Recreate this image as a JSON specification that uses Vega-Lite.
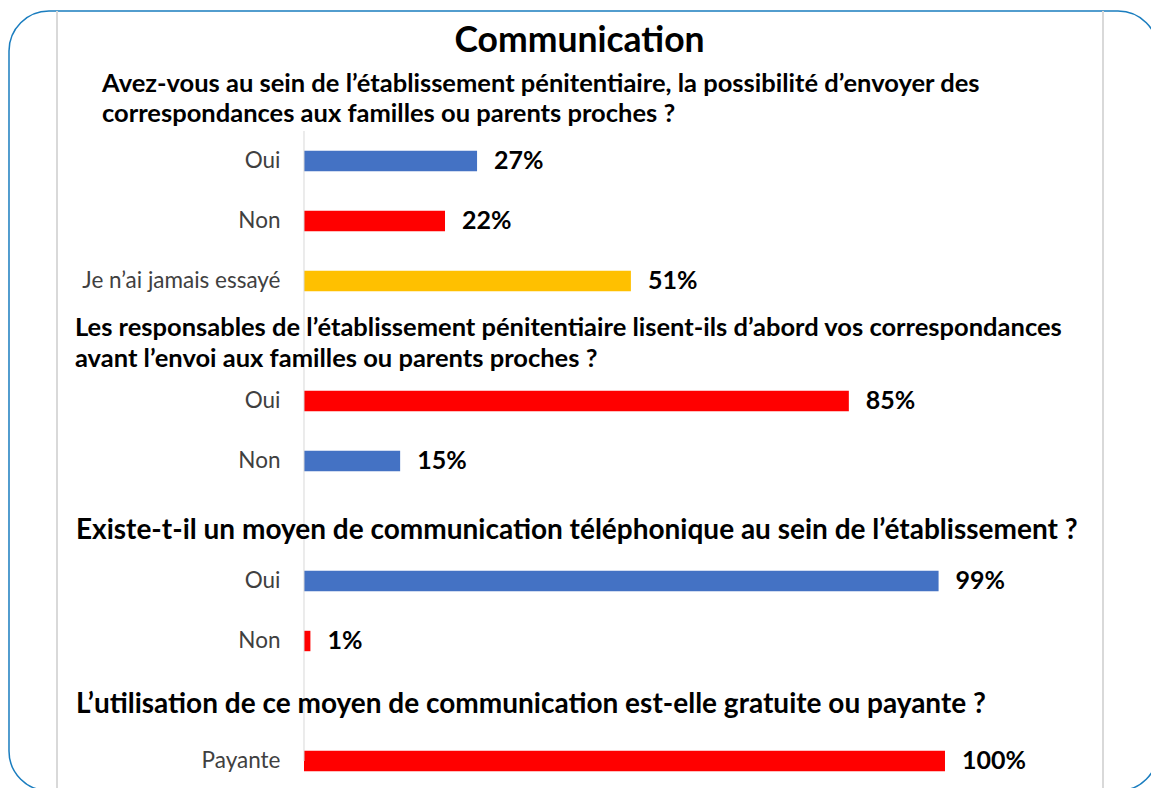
{
  "$schema": "https://vega.github.io/schema/vega-lite/v6.json",
  "width": 1149,
  "height": 780,
  "autosize": "none",
  "padding": {"left": 9, "top": 11, "right": 0, "bottom": 0},
  "background": "white",
  "title": {"text": "Communication", "font": "Lato", "fontSize": 35.5, "fontWeight": "bold", "color": "#000000", "anchor": "middle", "baseline": "alphabetic", "offset": -77, "dx": -4},
  "config": {"view": {"stroke": "#1a7dbf", "strokeWidth": 1.5, "cornerRadius": 40}, "font": "Lato"},
  "datasets": {
    "reponses": [
      {"question": 1, "cle": "1|Oui", "part": 0.27, "appreciation": "favorable"},
      {"question": 1, "cle": "1|Non", "part": 0.22, "appreciation": "défavorable"},
      {"question": 1, "cle": "1|Je n’ai jamais essayé", "part": 0.51, "appreciation": "neutre"},
      {"question": 2, "cle": "2|Oui", "part": 0.85, "appreciation": "défavorable"},
      {"question": 2, "cle": "2|Non", "part": 0.15, "appreciation": "favorable"},
      {"question": 3, "cle": "3|Oui", "part": 0.99, "appreciation": "favorable"},
      {"question": 3, "cle": "3|Non", "part": 0.01, "appreciation": "défavorable"},
      {"question": 4, "cle": "4|Payante", "part": 1.0, "appreciation": "défavorable"}
    ],
    "questions": [
      {"question": 1, "cle": "1|", "texte": "Avez-vous au sein de l’établissement pénitentiaire, la possibilité d’envoyer des\ncorrespondances aux familles ou parents proches ?"},
      {"question": 2, "cle": "2|", "texte": "Les responsables de l’établissement pénitentiaire lisent-ils d’abord vos correspondances\navant l’envoi aux familles ou parents proches ?"},
      {"question": 3, "cle": "3|", "texte": "Existe-t-il un moyen de communication téléphonique au sein de l’établissement ?"},
      {"question": 4, "cle": "4|", "texte": "L’utilisation de ce moyen de communication est-elle gratuite ou payante ?"}
    ]
  },
  "layer": [
    {
      "data": {"name": "reponses"},
      "mark": {"type": "bar", "height": {"band": 0.34}},
      "encoding": {
        "y": {
          "field": "cle", "type": "nominal",
          "scale": {"domain": ["0|", "1|", "1|Oui", "1|Non", "1|Je n’ai jamais essayé", "2|", "2|Oui", "2|Non", "3|", "3|Oui", "3|Non", "4|", "4|Payante"], "paddingInner": 0, "paddingOuter": 0},
          "axis": {"title": null, "domain": false, "ticks": false, "grid": false, "offset": -295, "labelPadding": 24, "labelFontSize": 22.5, "labelLimit": 320, "labelColor": "#404040", "labelFont": "Lato", "labelExpr": "split(datum.value, '|')[1]"}
        },
        "x": {"field": "part", "type": "quantitative", "scale": {"domain": [-0.4602, 1.3323], "nice": false, "zero": false}, "axis": null},
        "color": {"field": "appreciation", "type": "nominal", "scale": {"domain": ["favorable", "défavorable", "neutre"], "range": ["#4472c4", "#ff0000", "#ffc000"]}, "legend": null}
      }
    },
    {
      "data": {"values": [{"bord": "gauche"}]},
      "mark": {"type": "rule", "color": "#d9d9d9", "strokeWidth": 2},
      "encoding": {"x": {"datum": -0.3853, "type": "quantitative"}}
    },
    {
      "data": {"values": [{"bord": "droite"}]},
      "mark": {"type": "rule", "color": "#d9d9d9", "strokeWidth": 2},
      "encoding": {"x": {"datum": 1.2465, "type": "quantitative"}}
    },
    {
      "data": {"values": [{"bord": "axe"}]},
      "mark": {"type": "rule", "color": "#d9d9d9", "strokeWidth": 1},
      "encoding": {
        "x": {"datum": 0, "type": "quantitative"},
        "y": {"datum": "1|Oui", "type": "nominal", "bandPosition": 0},
        "y2": {"datum": "4|Payante"}
      }
    },
    {
      "data": {"name": "reponses"},
      "mark": {"type": "text", "align": "left", "baseline": "middle", "dx": 17, "fontSize": 25, "fontWeight": "bold", "font": "Lato", "color": "#000000"},
      "encoding": {
        "y": {"field": "cle", "type": "nominal"},
        "x": {"field": "part", "type": "quantitative"},
        "text": {"field": "part", "type": "quantitative", "format": ".0%"}
      }
    },
    {
      "data": {"name": "questions"},
      "transform": [{"filter": "datum.question == 1"}],
      "mark": {"type": "text", "align": "left", "baseline": "middle", "lineBreak": "\n", "lineHeight": 30, "fontSize": 25.5, "fontWeight": "bold", "font": "Lato", "color": "#000000", "dy": -17},
      "encoding": {
        "y": {"field": "cle", "type": "nominal"},
        "x": {"datum": -0.3151, "type": "quantitative"},
        "text": {"field": "texte", "type": "nominal"}
      }
    },
    {
      "data": {"name": "questions"},
      "transform": [{"filter": "datum.question == 2"}],
      "mark": {"type": "text", "align": "left", "baseline": "middle", "lineBreak": "\n", "lineHeight": 31, "fontSize": 25.5, "fontWeight": "bold", "font": "Lato", "color": "#000000", "dy": -13},
      "encoding": {
        "y": {"field": "cle", "type": "nominal"},
        "x": {"datum": -0.3573, "type": "quantitative"},
        "text": {"field": "texte", "type": "nominal"}
      }
    },
    {
      "data": {"name": "questions"},
      "transform": [{"filter": "datum.question == 3"}],
      "mark": {"type": "text", "align": "left", "baseline": "middle", "fontSize": 28, "fontWeight": "bold", "font": "Lato", "color": "#000000", "dy": 10},
      "encoding": {
        "y": {"field": "cle", "type": "nominal"},
        "x": {"datum": -0.3557, "type": "quantitative"},
        "text": {"field": "texte", "type": "nominal"}
      }
    },
    {
      "data": {"name": "questions"},
      "transform": [{"filter": "datum.question == 4"}],
      "mark": {"type": "text", "align": "left", "baseline": "middle", "fontSize": 28, "fontWeight": "bold", "font": "Lato", "color": "#000000", "dy": 4},
      "encoding": {
        "y": {"field": "cle", "type": "nominal"},
        "x": {"datum": -0.3557, "type": "quantitative"},
        "text": {"field": "texte", "type": "nominal"}
      }
    }
  ]
}
